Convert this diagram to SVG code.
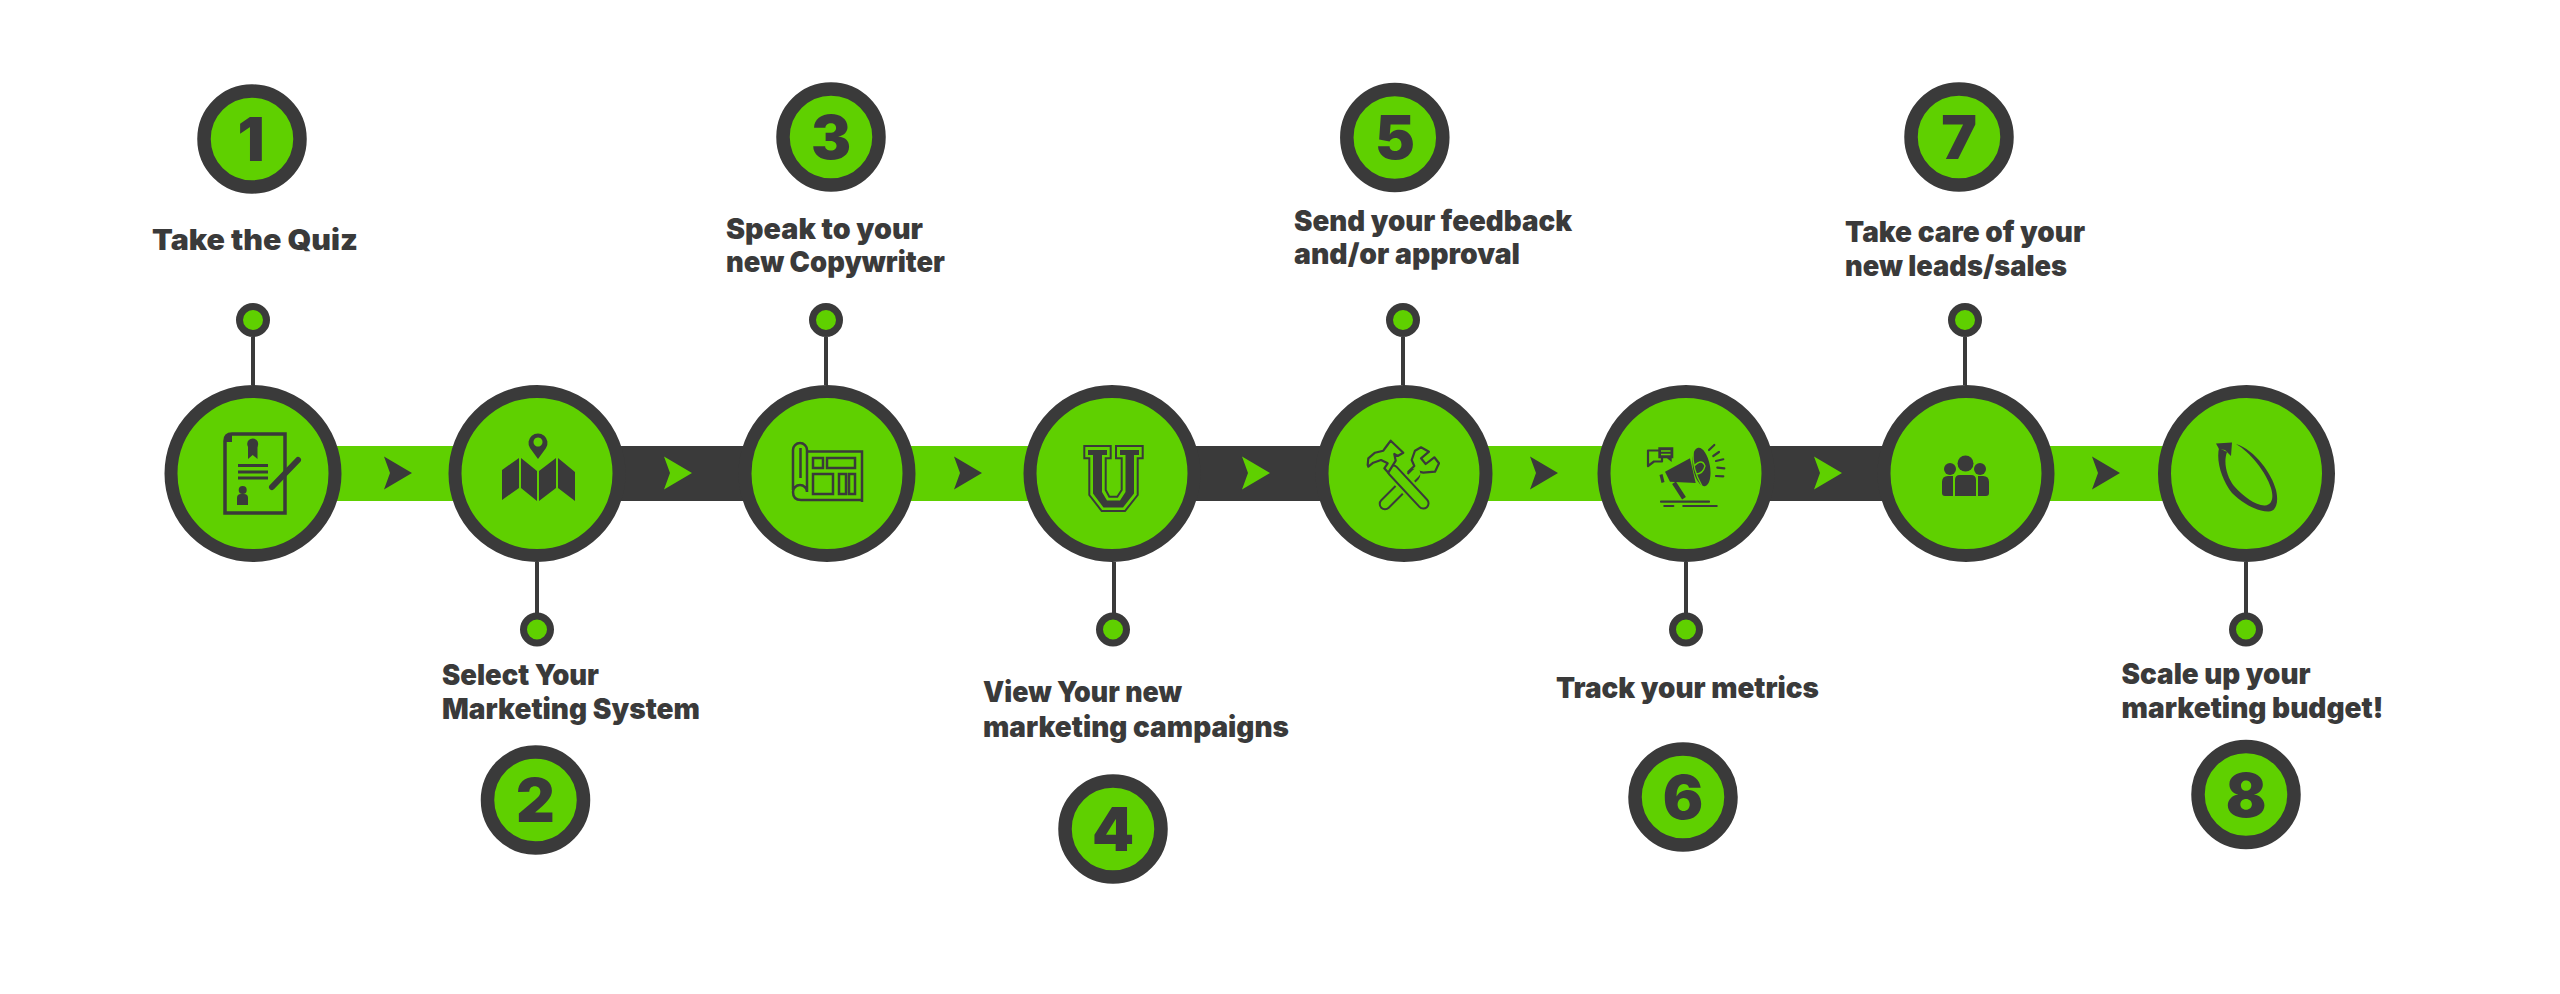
<svg xmlns="http://www.w3.org/2000/svg" width="2560" height="994" viewBox="0 0 2560 994">
<style>
.g{fill:#5fd000}.d{fill:#3a3a3a}
.big{fill:#5fd000;stroke:#3a3a3a;stroke-width:13}
.badge{fill:#5fd000;stroke:#3a3a3a;stroke-width:13.5}
.dot{fill:#5fd000;stroke:#3a3a3a;stroke-width:7}
.stem{stroke:#3a3a3a;stroke-width:4;fill:none}
.t{font-family:"Inter","Liberation Sans",sans-serif;font-weight:900;font-size:28.5px;fill:#3a3a3a}
.n{font-family:"Inter","Liberation Sans",sans-serif;font-weight:900;font-size:60px;fill:#3a3a3a;text-anchor:middle}
.l{fill:none;stroke:#3a3a3a;stroke-width:2.5}
.i{fill:#5fd000;stroke:#3a3a3a;stroke-width:2.2;stroke-linejoin:round}
.r{fill:none;stroke:#3a3a3a;stroke-width:2.2;stroke-linecap:round}
</style>
<defs><path id="ah" d="M-14,-16.5 L14,0 L-14,16.5 L-8,0z"/></defs>
<rect width="2560" height="994" fill="#fff"/>
<g id="connectors">
<rect class="g" x="330" y="446" width="130" height="55"/>
<rect class="d" x="610" y="446" width="140" height="55"/>
<rect class="g" x="900" y="446" width="140" height="55"/>
<rect class="d" x="1190" y="446" width="140" height="55"/>
<rect class="g" x="1480" y="446" width="130" height="55"/>
<rect class="d" x="1760" y="446" width="130" height="55"/>
<rect class="g" x="2040" y="446" width="130" height="55"/>
<use href="#ah" class="d" x="398" y="473"/>
<use href="#ah" class="g" x="678" y="473"/>
<use href="#ah" class="d" x="968" y="473"/>
<use href="#ah" class="g" x="1256" y="473"/>
<use href="#ah" class="d" x="1544" y="473"/>
<use href="#ah" class="g" x="1828" y="473"/>
<use href="#ah" class="d" x="2106" y="473"/>
<path class="stem" d="M253,337V385M826,337V385M1403,337V385M1965,337V385M537,562V613M1114,562V613M1686,562V613M2246,562V613"/>
</g>
<g id="node1">
<circle class="big" cx="253" cy="473.5" r="82"/>
<circle class="dot" cx="253" cy="320" r="13.5"/>
<circle class="badge" cx="252" cy="139" r="48"/>
<text class="n" x="251" y="161">1</text>
<text class="t" x="152" y="250" textLength="206" lengthAdjust="spacingAndGlyphs">Take the Quiz</text>
<path fill="none" stroke="#3a3a3a" stroke-width="3.5" d="M225,513V441Q225,434 232,434H285V513Z"/>
<path class="d" d="M225,442Q225,434 232,434V442Z"/>
<circle class="d" cx="252.7" cy="444" r="5.5"/>
<path class="d" d="M248,446H257.5V459L252.7,455L248,459Z"/>
<rect class="d" x="238" y="464" width="30" height="3"/><rect class="d" x="238" y="470.5" width="30" height="3"/><rect class="d" x="238" y="476.5" width="30" height="3"/>
<circle class="d" cx="242.7" cy="490" r="4"/>
<path class="d" d="M237,505V498Q237,494 241,494H244Q248,494 248,498V505Z"/>
<path stroke="#3a3a3a" stroke-width="6" stroke-linecap="round" d="M272,487L298,460"/>
</g>
<g id="node2">
<circle class="big" cx="537" cy="473.5" r="82"/>
<circle class="dot" cx="537" cy="629.5" r="13.5"/>
<circle class="badge" cx="535.5" cy="800" r="48"/>
<text class="n" x="535.5" y="822">2</text>
<text class="t" x="442" y="684.5" textLength="157" lengthAdjust="spacingAndGlyphs">Select Your</text>
<text class="t" x="442" y="718.5" textLength="258" lengthAdjust="spacingAndGlyphs">Marketing System</text>
<path fill-rule="evenodd" class="d" d="M538,459L530,448A9.5,9.5 0 1 1 546,448ZM538,437.5A4.5,4.5 0 1 0 538.01,437.5Z"/>
<path class="d" d="M502,470L519,458V488L502,500ZM521,458L537,471V501L521,488ZM539,471L556,458V488L539,501ZM558,458L575,472V501L558,488Z"/>
</g>
<g id="node3">
<circle class="big" cx="827" cy="473.5" r="82"/>
<circle class="dot" cx="826" cy="320" r="13.5"/>
<circle class="badge" cx="831" cy="137" r="48"/>
<text class="n" x="831" y="159">3</text>
<text class="t" x="726" y="238.5" textLength="197" lengthAdjust="spacingAndGlyphs">Speak to your</text>
<text class="t" x="726" y="272" textLength="219" lengthAdjust="spacingAndGlyphs">new Copywriter</text>
<path class="l" d="M793,490V450A7,7 0 0 1 807,450V492A7,7 0 0 0 793,492Q793,500 801,500H862M807,451.5H862V502M800.5,448V478"/>
<path class="l" d="M813,458H823V468H813ZM827,458H855V468H827ZM813,474H833V494H813ZM839,474H846V494H839ZM849,474H855V494H849Z"/>
</g>
<g id="node4">
<circle class="big" cx="1112" cy="473.5" r="82"/>
<circle class="dot" cx="1113" cy="629.5" r="13.5"/>
<circle class="badge" cx="1113" cy="829" r="48"/>
<text class="n" x="1113" y="851">4</text>
<text class="t" x="983" y="702" textLength="199" lengthAdjust="spacingAndGlyphs">View Your new</text>
<text class="t" x="983" y="737" textLength="306" lengthAdjust="spacingAndGlyphs">marketing campaigns</text>
<path fill="none" stroke="#3a3a3a" stroke-width="2" d="M1084.3,446H1110.7V458.3H1105.7V490L1109.3,496.7H1117.3L1121.7,490V458.3H1116V446H1142.7V458.3H1137.7V495L1125,511H1101.7L1089.3,495V458.3H1084.3Z"/>
<path class="d" d="M1088,450H1107V455H1102V492L1107,500.5H1120L1125.5,492V455H1120V450H1139V455H1134V493.5L1123,507.5H1103.5L1093,493.5V455H1088Z"/>
</g>
<g id="node5">
<circle class="big" cx="1404" cy="473.5" r="82"/>
<circle class="dot" cx="1403" cy="320" r="13.5"/>
<circle class="badge" cx="1394.8" cy="137.5" r="48"/>
<text class="n" x="1395" y="159">5</text>
<text class="t" x="1294" y="230.5" textLength="278" lengthAdjust="spacingAndGlyphs">Send your feedback</text>
<text class="t" x="1294" y="264" textLength="226" lengthAdjust="spacingAndGlyphs">and/or approval</text>
<path class="i" d="M1408.3,471.7L1414.3,466L1411.7,460L1415,450.7L1421,447.3L1429,451.7L1421,458.3L1425.7,464L1434.3,457.3L1439,463.3L1435,471.7L1423.3,472.7L1418.3,471.7L1412.3,478.3Z"/>
<path stroke="#3a3a3a" stroke-width="12.5" stroke-linecap="round" d="M1414,475L1385,504"/>
<path stroke="#5fd000" stroke-width="8.5" stroke-linecap="round" d="M1416,473L1385,504"/>
<path stroke="#5fd000" stroke-width="17" d="M1393,470.7L1423.3,503.3"/>
<path stroke="#3a3a3a" stroke-width="12.5" stroke-linecap="round" d="M1393,470.7L1423.3,503.3"/>
<path stroke="#5fd000" stroke-width="8.5" stroke-linecap="round" d="M1393,470.7L1423.3,503.3"/>
<path class="i" d="M1367.7,465L1368.3,458.3L1375,452.7L1383.3,450.7L1386.7,446L1390.7,440.7L1403.3,452.7L1397.7,456L1394.3,454L1395.7,460.7L1388.3,472.7L1384.3,468.3L1387.7,463.3L1381,460L1373.3,462.7L1368.3,466.7Z"/>
</g>
<g id="node6">
<circle class="big" cx="1686" cy="473.5" r="82"/>
<circle class="dot" cx="1686" cy="629.5" r="13.5"/>
<circle class="badge" cx="1683" cy="797" r="48"/>
<text class="n" x="1683" y="819">6</text>
<text class="t" x="1556" y="697.5" textLength="263" lengthAdjust="spacingAndGlyphs">Track your metrics</text>
<path class="i" d="M1648,450.5H1662V461.5H1654L1648,466Z"/>
<path class="d" d="M1658.3,447.3H1673.3V458.3H1671.7V462L1667,458.3H1658.3Z"/>
<path stroke="#5fd000" stroke-width="1.5" d="M1661,451H1670.5M1661,454.500H1670.5"/>
<path class="d" d="M1665,471.7L1690,458.3L1695.7,483L1670,481.7Z"/>
<path class="d" d="M1659.5,475L1662.5,474L1664.5,482L1661.5,483Z"/>
<path stroke="#3a3a3a" stroke-width="4.5" d="M1674,482.7L1684,498.3"/>
<ellipse class="d" cx="1701.5" cy="467" rx="8.5" ry="19.5" transform="rotate(-10 1701.5 467)"/>
<path fill="none" stroke="#5fd000" stroke-width="1.3" d="M1693,450Q1692,470 1702,486M1694,466Q1702,458 1705,466Q1703,474 1696,474"/>
<path class="r" d="M1661,501.7H1709M1664.3,506H1673.3M1683.3,506H1716.7M1709,450L1714.3,445M1713.3,456L1719,452M1716,461L1723.3,459.3M1717.3,467.7L1724.3,468.3M1716,476L1723.3,476.3"/>
</g>
<g id="node7">
<circle class="big" cx="1966" cy="473.5" r="82"/>
<circle class="dot" cx="1965" cy="320" r="13.5"/>
<circle class="badge" cx="1959" cy="137" r="48"/>
<text class="n" x="1959" y="159">7</text>
<text class="t" x="1845" y="241.5" textLength="240" lengthAdjust="spacingAndGlyphs">Take care of your</text>
<text class="t" x="1845" y="275.5" textLength="222" lengthAdjust="spacingAndGlyphs">new leads/sales</text>
<circle class="d" cx="1965.5" cy="463.5" r="8"/>
<circle class="d" cx="1950" cy="469" r="6"/>
<circle class="d" cx="1980" cy="469" r="6"/>
<path class="d" d="M1953,476V496H1945Q1942,496 1942,493V482Q1942,476 1948,476ZM1978,476V496H1986Q1989,496 1989,493V482Q1989,476 1983,476ZM1955,496V480Q1955,475 1960,475H1971Q1976,475 1976,480V496Z"/>
</g>
<g id="node8">
<circle class="big" cx="2246.5" cy="473.5" r="82"/>
<circle class="dot" cx="2246" cy="629.5" r="13.5"/>
<circle class="badge" cx="2246" cy="794.5" r="48"/>
<text class="n" x="2246" y="816.5">8</text>
<text class="t" x="2121.5" y="684" textLength="189" lengthAdjust="spacingAndGlyphs">Scale up your</text>
<text class="t" x="2121.5" y="718" textLength="262" lengthAdjust="spacingAndGlyphs">marketing budget!</text>
<path class="d" d="M2219,448C2216,462 2222,480 2232,493C2242,503 2256,511 2268,511.5C2276,512 2279,503 2276,490C2272,474 2255,450 2236,444C2250,452 2266,472 2271,488C2274,498 2272,505 2265,505.5C2256,506 2243,496 2234,486C2227,477 2223,463 2227,452Z"/>
<path class="d" d="M2216,443.5L2232,442.5L2231,456L2225,450L2219,449Z"/>
</g>
</svg>
